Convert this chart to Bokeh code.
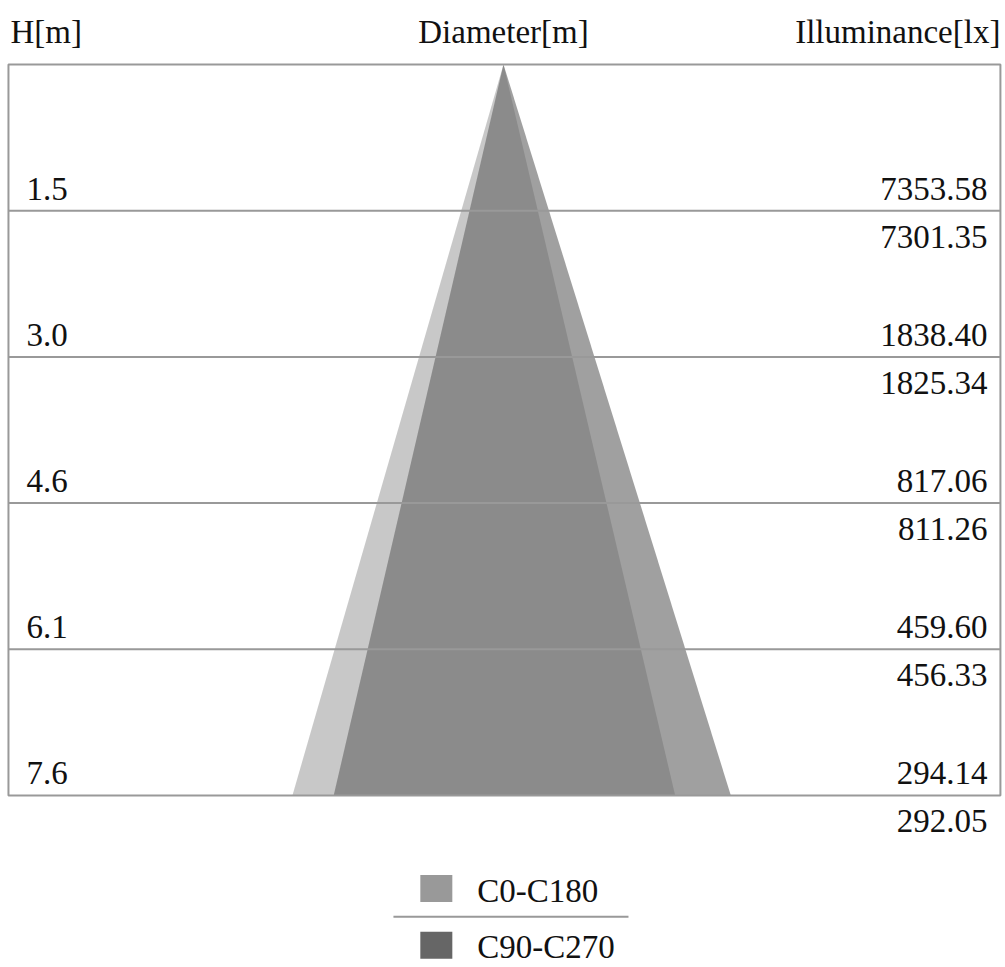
from bokeh.plotting import figure
from bokeh.models import Range1d, ColumnDataSource
from bokeh.core.properties import value
from bokeh.embed import file_html
from bokeh.resources import INLINE

# ---------------- data ----------------
height_labels = ["1.5", "3.0", "4.6", "6.1", "7.6"]
heights_m = [1.524, 3.048, 4.572, 6.096, 7.62]
illum_c0 = [7353.58, 1838.40, 817.06, 459.60, 294.14]
illum_c90 = [7301.35, 1825.34, 811.26, 456.33, 292.05]
series = ["C0-C180", "C90-C270"]
beam_left_m = [-2.20, -1.77]    # beam edge (left) at maximum height
beam_right_m = [1.79, 2.37]     # beam edge (right) at maximum height
series_colors = ["#999999", "#666666"]
series_alpha = [0.54, 0.62]

# ---------------- layout ----------------
FONT = value("Liberation Serif")
FS = "33px"
box_left, box_right = -5.16, 5.18
h_max = heights_m[-1]
legend_x = -0.70
legend_y = [8.59, 9.18]
sep_y = 8.885
sep_x = [-1.147, 1.303]

p = figure(width=1005, height=967, output_backend="svg", toolbar_location=None,
           x_range=Range1d(-5.243, 5.233), y_range=Range1d(9.413, -0.667),
           min_border=0, min_border_left=0, min_border_right=0,
           min_border_top=0, min_border_bottom=0)
p.axis.visible = False
p.grid.visible = False
p.outline_line_color = None
p.background_fill_color = "white"
p.border_fill_color = "white"

# beams
for i in range(len(series)):
    p.patch(x=[0, beam_left_m[i], beam_right_m[i]], y=[0, h_max, h_max],
            fill_color=series_colors[i], fill_alpha=series_alpha[i],
            line_color=None)

# box and height lines
p.quad(left=[box_left], right=[box_right], top=[0], bottom=[h_max],
       fill_color=None, line_color="#999999", line_width=2)
p.segment(x0=[box_left] * (len(heights_m) - 1), x1=[box_right] * (len(heights_m) - 1),
          y0=heights_m[:-1], y1=heights_m[:-1], line_color="#999999", line_width=2)

# headings
common = dict(text_font=FONT, text_font_size=FS, text_color="#111111",
              text_baseline="alphabetic")
p.text(x=[box_left], y=[0], text=["H[m]"], x_offset=2, y_offset=-32,
       text_align="left", **common)
p.text(x=[0], y=[0], text=["Diameter[m]"], y_offset=-32, text_align="center", **common)
p.text(x=[box_right], y=[0], text=["Illuminance[lx]"], x_offset=0, y_offset=-32,
       text_align="right", **common)

# row labels
src = ColumnDataSource(dict(
    y=heights_m, h=height_labels,
    c0=[f"{v:.2f}" for v in illum_c0],
    c90=[f"{v:.2f}" for v in illum_c90],
    xl=[box_left] * len(heights_m), xr=[box_right] * len(heights_m)))
p.text(x="xl", y="y", text="h", source=src, x_offset=18, y_offset=-22,
       text_align="left", **common)
p.text(x="xr", y="y", text="c0", source=src, x_offset=-13, y_offset=-22,
       text_align="right", **common)
p.text(x="xr", y="y", text="c90", source=src, x_offset=-13, y_offset=26,
       text_align="right", **common)

# legend
p.rect(x=[legend_x] * 2, y=legend_y, width=32, height=27,
       width_units="screen", height_units="screen",
       fill_color=series_colors, line_color=None)
p.text(x=[legend_x] * 2, y=legend_y, text=series, x_offset=41, y_offset=2,
       text_align="left", **common)
p.segment(x0=[sep_x[0]], x1=[sep_x[1]], y0=[sep_y], y1=[sep_y],
          line_color="#999999", line_width=2)

open("out.html", "w").write(file_html(p, INLINE))
